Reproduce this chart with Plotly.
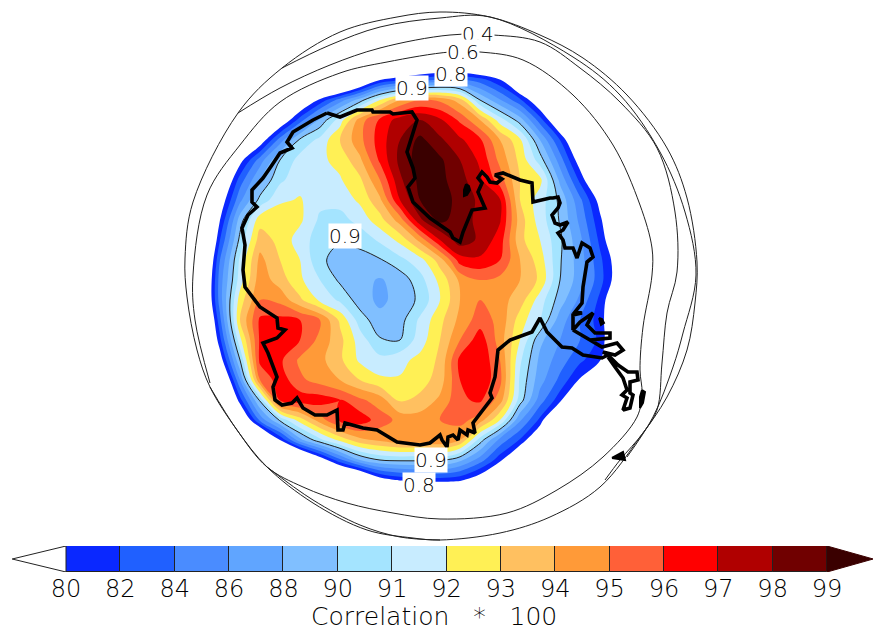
import numpy as np
import plotly.graph_objects as go

grid_x = [200,220,240,260,280,300,320,340,360,380,400,420,440,460,480,500,520,540,560,580,600,620,640]
grid_y = [60,80,100,120,140,160,180,200,220,240,260,280,300,320,340,360,380,400,420,440,460,480,500]
corr = [
[70,70,70,70,70,70,70,70,70,70,71,72,72,72,71,70,70,70,70,70,70,70,70],
[70,70,70,70,70,70,70,70,75,80,81.5,83,84.5,84.5,83,80.3,74,70,70,70,70,70,70],
[70,70,70,70,70,76,80.5,85,89,92,94,95,94.8,93.5,90,86.2,82.5,77,70,70,70,70,70],
[70,70,70,70,77,83,88.5,91.5,94.5,96.2,97.5,98,97.2,95.8,94,91.5,89,83,76,70,70,70,70],
[70,70,70,78,85,90.2,91.3,93,94.7,96.5,98,99.3,98.2,97.2,96.2,94,92.2,88,82,75,70,70,70],
[70,70,79,85,90,91.4,91.8,92.3,93.8,96.2,98.3,99.5,99.2,98,96.8,94.7,92.7,90.5,85,78.5,72,70,70],
[70,75,83,88,90.8,91.6,91.8,91.9,92.8,95,97.8,99.3,99.3,98.4,97.2,95.5,93,92.3,87.5,81.5,75,70,70],
[70,78,85.5,90.3,91.8,92.1,91.3,91.4,92.2,93.8,97,99,99.6,98.6,97.8,97.1,93,91.5,89.5,84.5,79,72,70],
[70,80,89,92.6,92.8,92.2,90.8,90.6,91.4,92.6,94.5,97.8,99.3,98.5,97.7,97.1,93.5,91.5,89.8,85.5,80.5,75,70],
[70,82,90.3,93.5,92.7,91.5,90.5,90.1,90.3,91.2,92.3,94.3,97,98.6,97.8,96.5,93.3,92,90.2,86.5,81.5,76,70],
[72,84,91.2,94.3,93,92,90.2,89.2,89.3,89.8,90.7,91.6,93.5,96.5,96.8,96,94,92.5,90.1,87,82.5,78,70],
[73,85,91.5,94.6,93.5,92.2,91,89.6,88.6,87.8,88.8,90.6,92.3,94.2,95,94.7,94,92.8,90,87,82.8,78,70],
[73,85,92.5,95,94.7,93.2,91.8,90.8,89,87.5,88.8,90.2,92,94,95,94.4,93.5,91.5,89,85.5,81.5,76,70],
[71,83.5,93,96.2,96.3,96,95,92.8,90.5,88.7,89.2,91.2,92.7,94.3,95.5,94.7,92.5,91,87,84,81,76,70],
[70,81.5,91.7,96.2,96.6,96,94.7,93.3,91.5,90.1,90,91.5,93,95,96.6,94.5,92,88.5,86,84,81.5,75,70],
[70,78.5,90,96.3,96.2,94.8,94.3,93.2,91.8,91.3,91.7,92.3,93.2,96.3,96.9,95,91.2,87.5,85,82.5,80.3,72,70],
[70,74,86,95,96.6,95.2,94.6,94,93,92.2,92.1,92.5,93.5,96,96.8,95.3,90.8,86.8,83.5,79.7,70,70,70],
[70,70,81.2,90.2,96.2,96.6,96.5,96,95.2,94.5,92.8,93.3,94.2,95.8,96.2,94.5,90.5,85,80.8,72,70,70,70],
[70,70,75,84.5,90.2,92.5,94.5,96.2,96.6,95.5,94.7,94.5,95,95.4,94.5,92,86.3,81.5,72,70,70,70,70],
[70,70,70,72,80,87.3,90.7,92.3,93.7,94.2,94.7,94.6,95,94,90.5,85.3,81.8,76,70,70,70,70,70],
[70,70,70,70,70,72,78,83.5,88,90,90.2,90.2,90.3,88.5,85,80.7,75,70,70,70,70,70,70],
[70,70,70,70,70,70,70,70,73,78.5,80.3,81,81,80.5,78,72,70,70,70,70,70,70,70],
[70,70,70,70,70,70,70,70,70,70,70,70,70,70,70,70,70,70,70,70,70,70,70],
]
level_values = [80,82,84,86,88,90,91,92,93,94,95,96,97,98,99]
level_labels = [str(v) for v in level_values]
band_colors = ["#0a28ff","#2060ff","#4a8cff","#60a5ff","#80bfff","#a4e4ff","#c8ecff","#fff055",
               "#ffc060","#ff9a38","#ff6038","#ff0000","#b00000","#700000"]
top_color = "#3a0000"

coast_x = [327,340,357,372,373,390,393,412,417,412,407,413,415,408,413,430,450,453,460,463,472,485,478,482,478,482,487,490,497,502,495,503,520,532,533,550,553,558,560,558,552,555,560,568,563,558,563,565,573,577,582,590,593,587,583,582,575,582,573,573,580,593,587,595,610,610,590,573,590,602,617,623,615,603,608,602,583,572,562,547,540,532,510,498,495,490,492,473,475,468,467,460,458,453,448,447,442,440,430,420,397,377,363,345,343,338,337,327,315,303,297,292,282,275,273,277,268,263,277,285,278,277,260,245,243,245,245,242,248,257,252,252,263,272,280,292,287,293,313,327]
coast_y = [113,117,110,110,112,112,114,112,120,135,152,168,178,187,202,218,232,238,242,232,210,208,192,183,178,172,177,182,183,179,175,173,180,183,202,198,198,197,203,208,215,223,225,222,230,233,240,248,248,258,243,248,257,262,287,303,312,313,315,330,322,313,325,333,333,338,340,330,340,347,343,350,355,352,355,358,355,348,347,332,318,332,340,350,377,393,398,423,433,430,435,430,440,435,437,447,440,435,443,445,442,430,428,423,430,430,410,415,415,408,398,403,405,400,387,377,353,343,338,330,328,318,307,287,270,245,245,228,215,207,202,190,178,165,153,148,142,132,120,113]
peninsula_x = [608,618,628,637,638,630,630,633,630,623,627,622,627,623,615,608]
peninsula_y = [355,365,372,372,380,382,393,395,408,410,398,395,390,378,367,357]
island_a_x = [642,645,643,640,640,642]
island_a_y = [390,392,403,408,397,390]
island_b_x = [612,623,625,612]
island_b_y = [458,452,460,458]
island_c_x = [466,469,470,467,464,464,466]
island_c_y = [184,186,190,195,196,190,184]
island_d_x = [599,602,604,601,599]
island_d_y = [318,319,323,325,318]

outer_x = [440,490,540,583,627,667,687,697,695,687,667,640,600,550,500,440,413,367,313,267,237,210,197,187,185,193,238,282,340,397,440]
outer_y = [12,17,35,58,95,148,198,262,303,350,397,437,487,517,533,540,538,530,503,467,430,387,350,297,258,202,113,68,32,17,12]
b_x = [282,330,380,440,490,573,620,660,685,696,683,673,653,627]
b_y = [68,45,27,18,17,57,95,152,212,275,333,367,417,457]
c04_x = [238,280,330,380,450,493,540,580,620,657,675,677,667,662,657,643,620,605,None,267,313,360,400,440]
c04_y = [113,88,65,48,35,35,42,68,102,148,212,272,313,363,410,433,460,480,None,467,500,525,537,540]
c06_x = [210,195,193,207,240,280,340,387,450,480,523,573,613,640,652,652,643,640,642,637,603,557,507,440,393,347,303,267,237,210]
c06_y = [383,320,275,195,145,102,73,62,52,52,60,95,145,205,248,275,327,370,393,417,457,490,513,519,513,503,487,467,430,387]

labels = ["0.4","0.6","0.8","0.9","0.9","0.9","0.8"]
label_x = [478,463,451,412,345,431,419]
label_y = [34,52,74,88,236,460,485]

z_index = np.interp(np.array(corr), [70]+level_values+[100], [-5]+list(range(15))+[15])

TXT = "#000000"
FONT = "DejaVu Sans ExtraLight, DejaVu Sans Light, Liberation Sans"
fig = go.Figure()
colors_all = ["#ffffff"] + band_colors + [top_color, top_color]
colorscale = []
for i, c in enumerate(colors_all):
    colorscale += [[max(0, (i-0.5)/16), c], [min(1, (i+0.5)/16), c]]
fig.add_trace(go.Contour(x=grid_x, y=grid_y, z=z_index, colorscale=colorscale,
    showscale=False, autocontour=False, contours=dict(start=0, end=15, size=1, coloring="fill"),
    line=dict(width=0, smoothing=1), hoverinfo="skip"))
fig.add_trace(go.Contour(x=grid_x, y=grid_y, z=z_index, showscale=False, autocontour=False,
    contours=dict(start=5, end=5, size=1, coloring="lines"), colorscale=[[0,"#222"],[1,"#222"]],
    line=dict(width=1, smoothing=1), hoverinfo="skip"))
for lx, ly in [(outer_x, outer_y), (b_x, b_y), (c04_x, c04_y), (c06_x, c06_y)]:
    fig.add_trace(go.Scatter(x=lx, y=ly, mode="lines", line=dict(color="#222", width=1, shape="spline", smoothing=1), hoverinfo="skip"))
fig.add_trace(go.Scatter(x=coast_x, y=coast_y, mode="lines", line=dict(color="black", width=3.6), hoverinfo="skip"))
fig.add_trace(go.Scatter(x=peninsula_x, y=peninsula_y, mode="lines", line=dict(color="black", width=3.6), hoverinfo="skip"))
for lx, ly in [(island_a_x, island_a_y), (island_b_x, island_b_y), (island_c_x, island_c_y), (island_d_x, island_d_y)]:
    fig.add_trace(go.Scatter(x=lx, y=ly, mode="lines", fill="toself", fillcolor="black", line=dict(color="black", width=2), hoverinfo="skip"))

# colour bar
fig.add_trace(go.Bar(x=[i+0.5 for i in range(14)], y=[1]*14, width=1, marker=dict(color=band_colors, line=dict(color="#222", width=1)),
    xaxis="x2", yaxis="y2", hoverinfo="skip"))
fig.add_trace(go.Scatter(x=[0,-0.99,0,0], y=[0,0.5,1,0], mode="lines", fill="toself", fillcolor="white", line=dict(color="#222", width=1), xaxis="x2", yaxis="y2", hoverinfo="skip"))
fig.add_trace(go.Scatter(x=[14,14.85,14,14], y=[0,0.5,1,0], mode="lines", fill="toself", fillcolor=top_color, line=dict(color=top_color, width=1), xaxis="x2", yaxis="y2", hoverinfo="skip"))

ann = [dict(x=a, y=b, text=t, showarrow=False, bgcolor="white", borderpad=0, font=dict(family=FONT, size=20, color=TXT), xref="x", yref="y") for t, a, b in zip(labels, label_x, label_y)]
ann.append(dict(x=434, y=616, text="Correlation&nbsp;&nbsp;&nbsp;*&nbsp;&nbsp;&nbsp;100", showarrow=False, font=dict(family=FONT, size=25, color=TXT), xref="x", yref="y"))

unit = (827-66)/14
fig.update_layout(width=873, height=631, margin=dict(l=0, r=0, t=0, b=0), paper_bgcolor="white", plot_bgcolor="rgba(0,0,0,0)",
    showlegend=False, annotations=ann, bargap=0,
    xaxis=dict(range=[0,873], visible=False, domain=[0,1], fixedrange=True),
    yaxis=dict(range=[631,0], visible=False, domain=[0,1], fixedrange=True),
    xaxis2=dict(range=[-66/unit, (873-66)/unit], domain=[0,1], anchor="y2", tickmode="array", tickvals=list(range(15)), ticktext=level_labels,
                showgrid=False, zeroline=False, showline=False, ticks="", tickfont=dict(family=FONT, size=24, color=TXT), fixedrange=True),
    yaxis2=dict(range=[0,1], domain=[(631-572)/631, (631-546)/631], anchor="x2", visible=False, fixedrange=True))
fig.write_html("out.html", config=dict(displayModeBar=False), post_script="document.body.style.margin='0';document.documentElement.style.overflow='hidden';")
